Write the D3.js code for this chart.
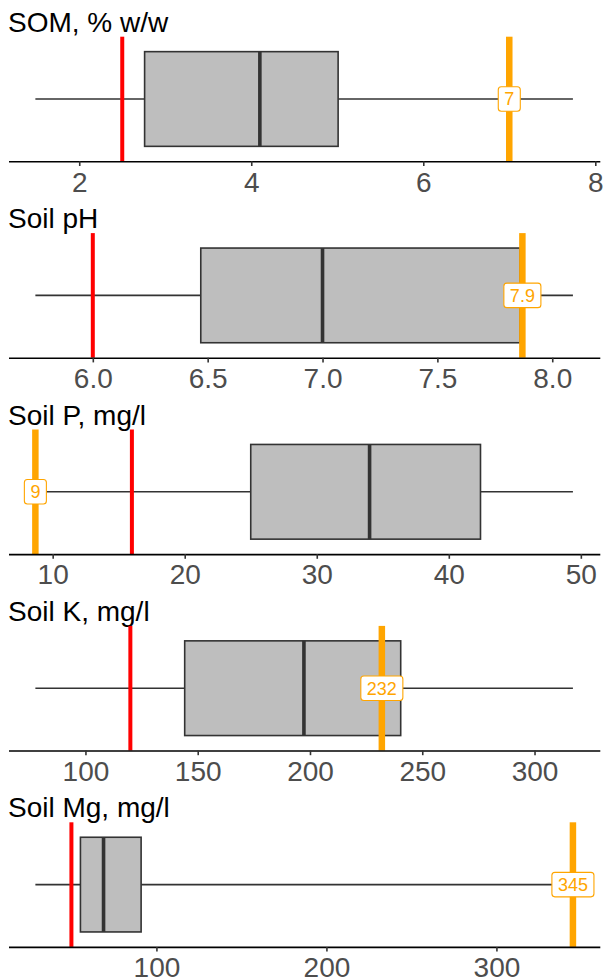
<!DOCTYPE html>
<html>
<head>
<meta charset="utf-8">
<script src="https://cdn.jsdelivr.net/npm/d3@7"></script>
<style>
  html, body { margin: 0; padding: 0; background: #fff; }
  svg { display: block; font-family: "Liberation Sans", Arial, Helvetica, sans-serif; }
</style>
</head>
<body>
<svg id="chart" width="603" height="979"></svg>
<script>
// ---- data ----
const titles = ["SOM, % w/w", "Soil pH", "Soil P, mg/l", "Soil K, mg/l", "Soil Mg, mg/l"];
const whiskerLow  = [1.49, 5.75, 9.0, 77.7, 28.8];
const q1          = [2.76, 6.47, 25.0, 144.2, 55.3];
const median      = [4.10, 7.00, 34.0, 197.3, 68.9];
const q3          = [5.01, 7.86, 42.4, 240.4, 91.0];
const whiskerHigh = [7.74, 8.09, 49.4, 317.1, 340];
const lowerRef    = [2.5, 6.0, 16.0, 120, 50];
const upperRef    = [7.0, 7.87, 8.69, 232, 345];
const upperLabels = ["7", "7.9", "9", "232", "345"];
const tickValues  = [[2, 4, 6, 8], [6, 6.5, 7, 7.5, 8], [10, 20, 30, 40, 50], [100, 150, 200, 250, 300], [100, 200, 300]];
const tickLabels  = [["2", "4", "6", "8"], ["6.0", "6.5", "7.0", "7.5", "8.0"], ["10", "20", "30", "40", "50"], ["100", "150", "200", "250", "300"], ["100", "200", "300"]];

// ---- layout ----
const svg = d3.select("#chart");
const panelLeft = 8.5, panelRight = 599.8;
const period = 196.4, axis0 = 161.3, panelH = 124.6;

titles.forEach((title, i) => {
  const top = axis0 + i * period - panelH;
  const g = svg.append("g").attr("transform", `translate(0,${top})`);

  const ext = d3.extent([whiskerLow[i], whiskerHigh[i], lowerRef[i], upperRef[i]]);
  const pad = (ext[1] - ext[0]) * 0.05;
  const x = d3.scaleLinear().domain([ext[0] - pad, ext[1] + pad]).range([panelLeft, panelRight]);
  const y = d3.scaleLinear().domain([0, 1]).range([panelH, 0]);

  // title
  g.append("text").attr("x", 8).attr("y", -5)
    .attr("font-size", 28).attr("fill", "#000").text(title);

  // whiskers
  g.append("line")
    .attr("x1", x(whiskerLow[i])).attr("x2", x(q1[i]))
    .attr("y1", y(0.5)).attr("y2", y(0.5))
    .attr("stroke", "#333").attr("stroke-width", 1.6);
  g.append("line")
    .attr("x1", x(q3[i])).attr("x2", x(whiskerHigh[i]))
    .attr("y1", y(0.5)).attr("y2", y(0.5))
    .attr("stroke", "#333").attr("stroke-width", 1.6);

  // box
  g.append("rect")
    .attr("x", x(q1[i])).attr("width", x(q3[i]) - x(q1[i]))
    .attr("y", y(0.88)).attr("height", y(0.12) - y(0.88))
    .attr("fill", "#bebebe").attr("stroke", "#333").attr("stroke-width", 1.6);
  g.append("line")
    .attr("x1", x(median[i])).attr("x2", x(median[i]))
    .attr("y1", y(0.88)).attr("y2", y(0.12))
    .attr("stroke", "#333").attr("stroke-width", 3.6);

  // reference lines
  g.append("line")
    .attr("x1", x(lowerRef[i])).attr("x2", x(lowerRef[i]))
    .attr("y1", y(1)).attr("y2", y(0))
    .attr("stroke", "#ff0000").attr("stroke-width", 4);
  g.append("line")
    .attr("x1", x(upperRef[i])).attr("x2", x(upperRef[i]))
    .attr("y1", y(1)).attr("y2", y(0))
    .attr("stroke", "#ffa500").attr("stroke-width", 6.5);

  // label
  const lg = g.append("g").attr("transform", `translate(${x(upperRef[i])},${y(0.5)})`);
  const rect = lg.append("rect");
  const t = lg.append("text")
    .attr("text-anchor", "middle").attr("dy", "0.36em")
    .attr("font-size", 18).attr("fill", "#ffa500").text(upperLabels[i]);
  const tw = t.node().getComputedTextLength();
  const bw = tw + 12, bh = 24.5;
  rect.attr("x", -bw / 2).attr("y", -bh / 2).attr("width", bw).attr("height", bh)
    .attr("rx", 3).attr("ry", 3)
    .attr("fill", "#fff").attr("stroke", "#ffa500").attr("stroke-width", 1.1);

  // axis
  const axis = d3.axisBottom(x)
    .tickValues(tickValues[i])
    .tickFormat((d, j) => tickLabels[i][j])
    .tickSize(4.7).tickSizeOuter(0).tickPadding(5.8);
  const ag = g.append("g").attr("transform", `translate(0,${panelH})`).call(axis);
  ag.select(".domain").attr("stroke", "#000").attr("stroke-width", 1.6);
  ag.selectAll(".tick line").attr("stroke", "#333").attr("stroke-width", 1.6);
  ag.selectAll(".tick text").attr("font-size", 28).attr("fill", "#4d4d4d")
    .attr("font-family", "'Liberation Sans', Arial, Helvetica, sans-serif");
});
</script>
</body>
</html>
